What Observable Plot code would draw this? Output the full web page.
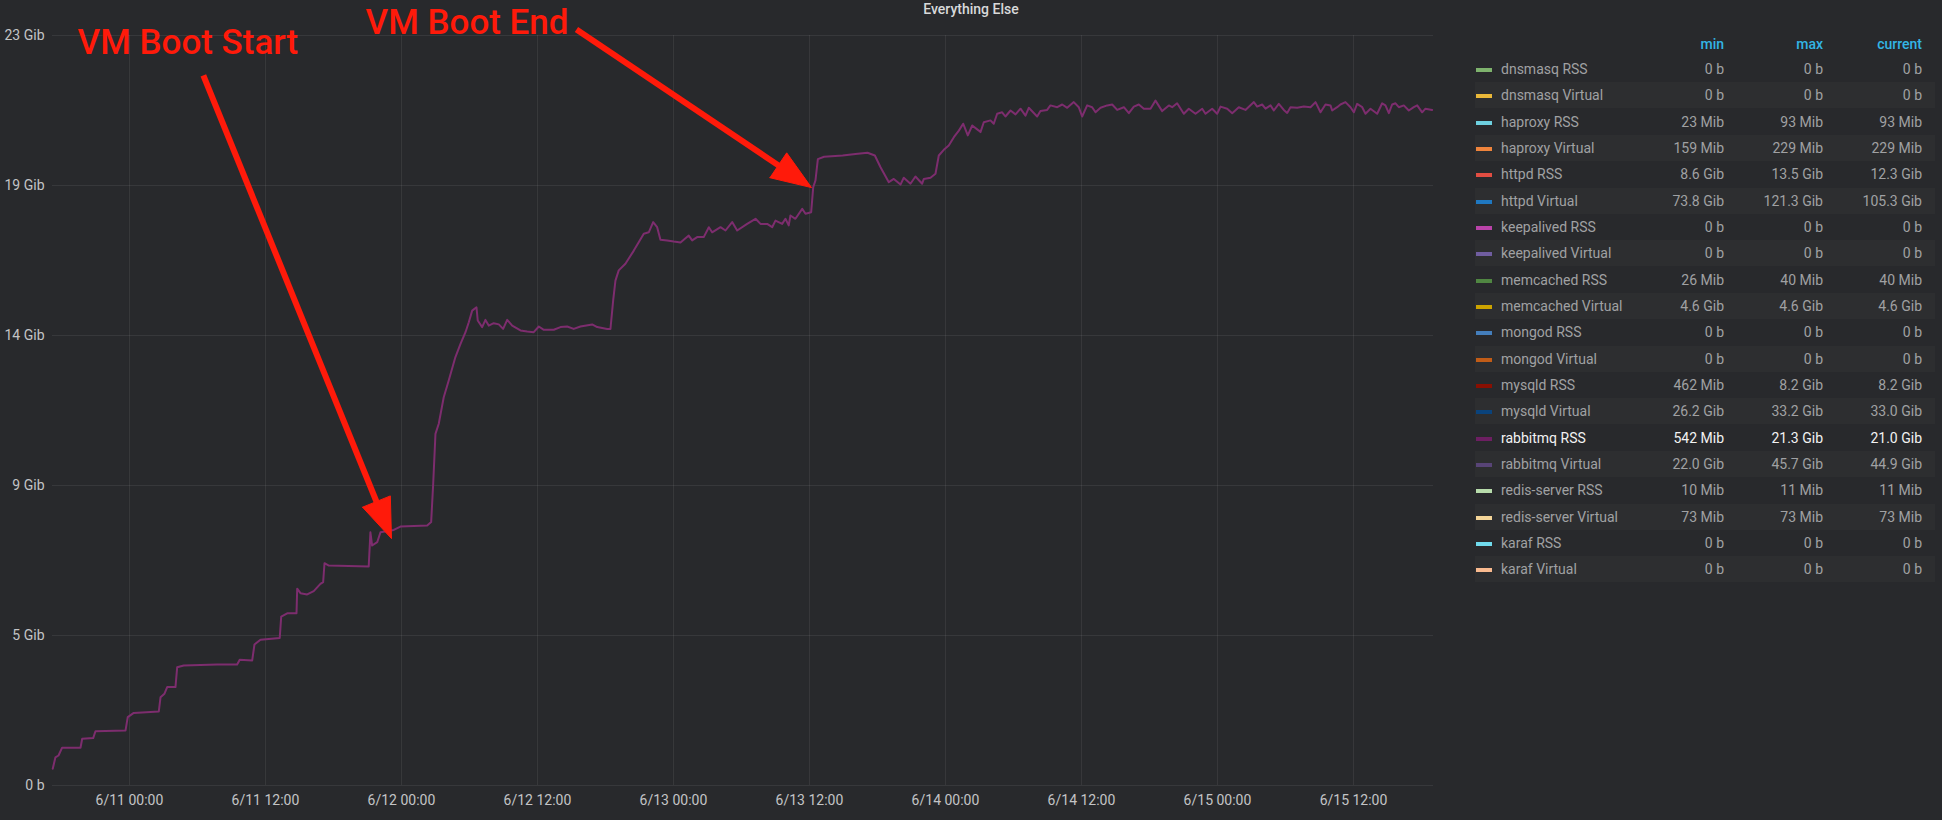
<!DOCTYPE html>
<html>
<head>
<meta charset="utf-8">
<script src="https://cdn.jsdelivr.net/npm/d3@7"></script>
<script src="https://cdn.jsdelivr.net/npm/@observablehq/plot@0.6"></script>
<style>
  html, body { margin: 0; padding: 0; background: #28292c; }
  #wrap { position: relative; width: 1942px; height: 820px; background: #28292c; overflow: hidden;
          font-family: Roboto, "Noto Sans", sans-serif; }
  #title { position: absolute; left: 0; top: 0; width: 1942px; text-align: center; font-size: 14px;
           font-weight: 500; color: #d8d9da; line-height: 18px; }
  #chart { position: absolute; left: 0; top: 0; }
  .lrow { position: absolute; left: 1475px; width: 460px; height: 26px; font-size: 14px; color: #a0a1a3; }
  .lrow.alt { background: rgba(255,255,255,0.025); }
  .lrow.hi { color: #f2f2f2; }
  .lrow .sw { position: absolute; left: 1px; top: 12px; width: 16px; height: 4px; }
  .lrow .nm { position: absolute; left: 26px; top: 0; line-height: 26px; white-space: nowrap; }
  .lrow .v { position: absolute; top: 0; width: 95px; text-align: right; line-height: 26px; white-space: nowrap; }
  .lrow.head { color: #33b5e5; font-weight: 500; }
</style>
</head>
<body>
<div id="wrap">
  <div id="chart"></div>
  <div id="title">Everything Else</div>
</div>
<script>
// ---------- data ----------
// rabbitmq RSS: [hours since 6/11 00:00, value in GB (1e9 bytes)]
const rabbitmqRss = [
  [-6.77,0.56],[-6.53,0.94],[-6.26,1.00],[-5.94,1.26],[-4.32,1.26],[-4.17,1.56],[-3.20,1.58],[-3.00,1.81],
  [-0.35,1.83],[-0.15,2.28],[0.38,2.42],[2.59,2.47],[2.74,2.94],[3.09,3.06],[3.33,3.28],[4.06,3.28],
  [4.21,3.94],[4.79,4.00],[7.74,4.03],[9.50,4.03],[9.73,4.19],[10.83,4.17],[11.03,4.70],[11.56,4.86],
  [13.26,4.92],[13.39,5.63],[13.92,5.74],[14.74,5.74],[14.80,6.56],[15.09,6.41],[15.68,6.37],[16.26,6.48],
  [16.85,6.72],[17.09,6.78],[17.21,7.41],[17.59,7.33],[21.11,7.30],[21.26,8.44],[21.41,8.00],[21.86,8.11],
  [22.15,8.44],[23.32,8.52],[23.91,8.63],[26.27,8.67],[26.62,8.78],[26.80,10.06],[27.00,11.72],[27.29,12.06],
  [27.73,12.94],[28.17,13.50],[28.76,14.28],[29.21,14.72],[29.65,15.11],[29.94,15.44],[30.24,15.83],[30.62,15.94],
  [30.73,15.50],[31.12,15.28],[31.41,15.52],[31.70,15.33],[32.14,15.41],[32.59,15.37],[32.97,15.22],[33.33,15.52],
  [33.77,15.33],[34.50,15.17],[35.09,15.13],[35.67,15.11],[36.12,15.30],[36.56,15.19],[37.44,15.19],[38.03,15.28],
  [38.62,15.30],[39.20,15.22],[39.79,15.30],[40.83,15.37],[41.27,15.28],[42.15,15.22],[42.44,15.22],[42.68,16.17],
  [42.88,16.83],[43.17,17.17],[43.76,17.39],[44.50,17.83],[45.38,18.39],[45.82,18.44],[46.21,18.78],[46.56,18.61],
  [46.85,18.19],[47.44,18.17],[48.03,18.13],[48.62,18.10],[49.35,18.33],[49.65,18.17],[50.09,18.28],[50.67,18.28],
  [51.12,18.61],[51.41,18.44],[52.15,18.61],[52.59,18.50],[53.18,18.78],[53.62,18.50],[54.50,18.72],[55.24,18.89],
  [55.68,18.72],[56.27,18.72],[56.71,18.61],[57.00,18.83],[57.59,18.72],[57.88,18.89],[58.17,18.67],[58.32,19.00],
  [58.76,18.89],[59.36,19.22],[59.65,19.06],[60.15,19.11],[60.33,19.94],[60.53,20.17],[60.74,20.88],[61.29,20.96],
  [62.93,21.00],[64.06,21.05],[65.12,21.09],[65.77,21.00],[66.27,20.61],[67.00,20.11],[67.44,20.22],[68.03,20.03],
  [68.32,20.26],[68.91,20.06],[69.35,20.30],[69.94,20.06],[70.09,20.22],[70.68,20.26],[71.12,20.39],[71.41,21.00],
  [71.85,21.19],[72.29,21.33],[72.74,21.61],[73.18,21.83],[73.56,22.06],[73.97,21.67],[74.36,22.00],[74.94,21.83],
  [75.09,21.78],[75.38,22.11],[75.97,22.17],[76.26,22.06],[76.56,22.39],[77.00,22.44],[77.29,22.30],[77.74,22.50],
  [78.18,22.37],[78.62,22.56],[79.06,22.33],[79.35,22.59],[80.09,22.30],[80.38,22.48],[80.97,22.52],[81.26,22.67],
  [81.86,22.61],[82.30,22.70],[82.74,22.59],[83.32,22.78],[83.76,22.61],[84.06,22.30],[84.50,22.67],[84.94,22.61],
  [85.24,22.44],[85.68,22.59],[86.27,22.67],[86.71,22.70],[87.15,22.52],[87.74,22.61],[88.18,22.41],[88.62,22.63],
  [89.06,22.70],[89.50,22.56],[90.09,22.56],[90.53,22.83],[91.12,22.48],[91.71,22.67],[92.00,22.61],[92.44,22.74],
  [93.03,22.39],[93.47,22.56],[94.06,22.39],[94.65,22.56],[94.94,22.39],[95.53,22.56],[95.97,22.39],[96.27,22.63],
  [96.86,22.56],[97.30,22.41],[97.88,22.61],[98.47,22.52],[99.21,22.78],[99.50,22.63],[99.94,22.70],[100.24,22.56],
  [100.68,22.67],[100.97,22.50],[101.41,22.72],[101.85,22.52],[102.15,22.42],[102.44,22.61],[103.03,22.59],[103.62,22.63],
  [104.21,22.61],[104.65,22.78],[105.09,22.44],[105.53,22.70],[105.97,22.67],[106.12,22.50],[106.56,22.61],[106.85,22.70],
  [107.29,22.78],[107.74,22.61],[108.03,22.44],[108.32,22.72],[108.77,22.61],[109.06,22.39],[109.50,22.56],[110.09,22.39],
  [110.53,22.74],[110.82,22.67],[111.12,22.41],[111.41,22.70],[111.71,22.74],[112.00,22.61],[112.44,22.67],[112.88,22.50],
  [113.32,22.61],[113.62,22.67],[114.06,22.44],[114.35,22.56],[114.94,22.52]
];

// time range shown (hours since 6/11 00:00)
const xDomainHours = [-6.79, 115.06];
const xTickHours = [0, 12, 24, 36, 48, 60, 72, 84, 96, 108];
const xTickLabels = ["6/11 00:00","6/11 12:00","6/12 00:00","6/12 12:00","6/13 00:00",
                     "6/13 12:00","6/14 00:00","6/14 12:00","6/15 00:00","6/15 12:00"];
const yDomainGB = [0, 25];
const yTicksGB = [0, 5, 10, 15, 20, 25];
const yTickLabels = ["0 b","5 Gib","9 Gib","14 Gib","19 Gib","23 Gib"];

// annotations (data coordinates: hours, GB)
const annotations = [
  {label: "VM Boot Start", textHour: -4.58, textGB: 24.77, fromHour: 6.52, fromGB: 23.67, toHour: 23.12, toGB: 8.23},
  {label: "VM Boot End",   textHour: 20.83, textGB: 25.42, fromHour: 39.44, fromGB: 25.20, toHour: 60.18, toGB: 19.93}
];

// legend table
const seriesNames = ["dnsmasq RSS","dnsmasq Virtual","haproxy RSS","haproxy Virtual","httpd RSS","httpd Virtual",
  "keepalived RSS","keepalived Virtual","memcached RSS","memcached Virtual","mongod RSS","mongod Virtual",
  "mysqld RSS","mysqld Virtual","rabbitmq RSS","rabbitmq Virtual","redis-server RSS","redis-server Virtual",
  "karaf RSS","karaf Virtual"];
const seriesColors = ["#7EB26D","#EAB839","#6ED0E0","#EF843C","#E24D42","#1F78C1","#BA43A9","#705DA0",
  "#508642","#CCA300","#447EBC","#C15C17","#890F02","#0A437C","#6D1F62","#584477","#B7DBAB","#F4D598",
  "#70DBED","#F9BA8F"];
const seriesMin = ["0 b","0 b","23 Mib","159 Mib","8.6 Gib","73.8 Gib","0 b","0 b","26 Mib","4.6 Gib",
  "0 b","0 b","462 Mib","26.2 Gib","542 Mib","22.0 Gib","10 Mib","73 Mib","0 b","0 b"];
const seriesMax = ["0 b","0 b","93 Mib","229 Mib","13.5 Gib","121.3 Gib","0 b","0 b","40 Mib","4.6 Gib",
  "0 b","0 b","8.2 Gib","33.2 Gib","21.3 Gib","45.7 Gib","11 Mib","73 Mib","0 b","0 b"];
const seriesCurrent = ["0 b","0 b","93 Mib","229 Mib","12.3 Gib","105.3 Gib","0 b","0 b","40 Mib","4.6 Gib",
  "0 b","0 b","8.2 Gib","33.0 Gib","21.0 Gib","44.9 Gib","11 Mib","73 Mib","0 b","0 b"];
const highlighted = "rabbitmq RSS";
const legendColumns = ["min","max","current"];

// ---------- build ----------
const GB = 1e9;
const base = Date.UTC(2018, 5, 11);
const toDate = h => new Date(base + h * 3600e3);
const lineData = rabbitmqRss.map(([h, v]) => ({t: toDate(h), v: v * GB}));
const xTicks = xTickHours.map(toDate);
const xLabel = new Map(xTicks.map((d, i) => [+d, xTickLabels[i]]));
const yLabel = new Map(yTicksGB.map((d, i) => [d * GB, yTickLabels[i]]));
const RED = "#ff1a0a";
const LINE = "#7d2d6e";

function build(extra) {
  return Plot.plot({
    width: 1942, height: 820,
    marginLeft: 52, marginRight: 509, marginTop: 35, marginBottom: 35,
    style: {background: "transparent", color: "#c3c4c6", fontFamily: "Roboto, sans-serif", fontSize: "14px"},
    x: {type: "utc", domain: xDomainHours.map(toDate), ticks: xTicks, tickFormat: d => xLabel.get(+d),
        tickSize: 0, tickPadding: 10, grid: true, label: null},
    y: {domain: yDomainGB.map(v => v * GB), ticks: yTicksGB.map(v => v * GB), tickFormat: d => yLabel.get(d),
        tickSize: 0, tickPadding: 8, grid: true, label: null},
    marks: [
      Plot.line(lineData, {x: "t", y: "v", stroke: LINE, strokeWidth: 2}),
      Plot.text(annotations, {x: d => toDate(d.textHour), y: d => d.textGB * GB, text: "label",
        textAnchor: "start", lineAnchor: "middle", fill: RED, fontSize: 35, fontWeight: 500,
        fontFamily: "Roboto, sans-serif"}),
      ...extra
    ]
  });
}

// first pass to obtain the scales, then compute arrow geometry in screen space
const probe = build([]);
const sx = probe.scale("x"), sy = probe.scale("y");
const shafts = [], heads = [];
annotations.forEach((a, k) => {
  const p0 = [sx.apply(toDate(a.fromHour)), sy.apply(a.fromGB * GB)];
  const p1 = [sx.apply(toDate(a.toHour)), sy.apply(a.toGB * GB)];
  const dx = p1[0] - p0[0], dy = p1[1] - p0[1], L = Math.hypot(dx, dy);
  const ux = dx / L, uy = dy / L, nx = -uy, ny = ux;
  const headLen = 40, half = 15;
  const bx = p1[0] - ux * headLen, by = p1[1] - uy * headLen;
  const ex = p1[0] - ux * (headLen - 6), ey = p1[1] - uy * (headLen - 6);
  const inv = (px, py) => ({x: sx.invert(px), y: sy.invert(py), k});
  const s0 = inv(p0[0], p0[1]), s1 = inv(ex, ey);
  shafts.push({x1: s0.x, y1: s0.y, x2: s1.x, y2: s1.y});
  heads.push(inv(bx + nx * half, by + ny * half), inv(p1[0], p1[1]), inv(bx - nx * half, by - ny * half),
             inv(bx + nx * half, by + ny * half));
});

const chart = build([
  Plot.link(shafts, {x1: "x1", y1: "y1", x2: "x2", y2: "y2", stroke: RED, strokeWidth: 6}),
  Plot.line(heads, {x: "x", y: "y", z: "k", fill: RED, stroke: RED, strokeWidth: 1, strokeLinejoin: "miter"})
]);
document.getElementById("chart").appendChild(chart);

// ---------- legend table ----------
const wrap = document.getElementById("wrap");
const rowTop = i => 56 + i * 26.33;
const colRight = [249, 348, 447];
function addRow(top, cls, cells, name, color) {
  const r = document.createElement("div");
  r.className = "lrow " + cls;
  r.style.top = top + "px";
  if (color) {
    const s = document.createElement("div");
    s.className = "sw"; s.style.background = color; r.appendChild(s);
  }
  if (name) {
    const n = document.createElement("div");
    n.className = "nm"; n.textContent = name; r.appendChild(n);
  }
  cells.forEach((c, j) => {
    const v = document.createElement("div");
    v.className = "v"; v.style.left = (colRight[j] - 95) + "px"; v.textContent = c; r.appendChild(v);
  });
  wrap.appendChild(r);
}
addRow(31, "head", legendColumns, null, null);
seriesNames.forEach((name, i) => {
  const cls = (i % 2 === 1 ? "alt" : "") + (name === highlighted ? " hi" : "");
  addRow(rowTop(i), cls, [seriesMin[i], seriesMax[i], seriesCurrent[i]], name, seriesColors[i]);
});
</script>
</body>
</html>
